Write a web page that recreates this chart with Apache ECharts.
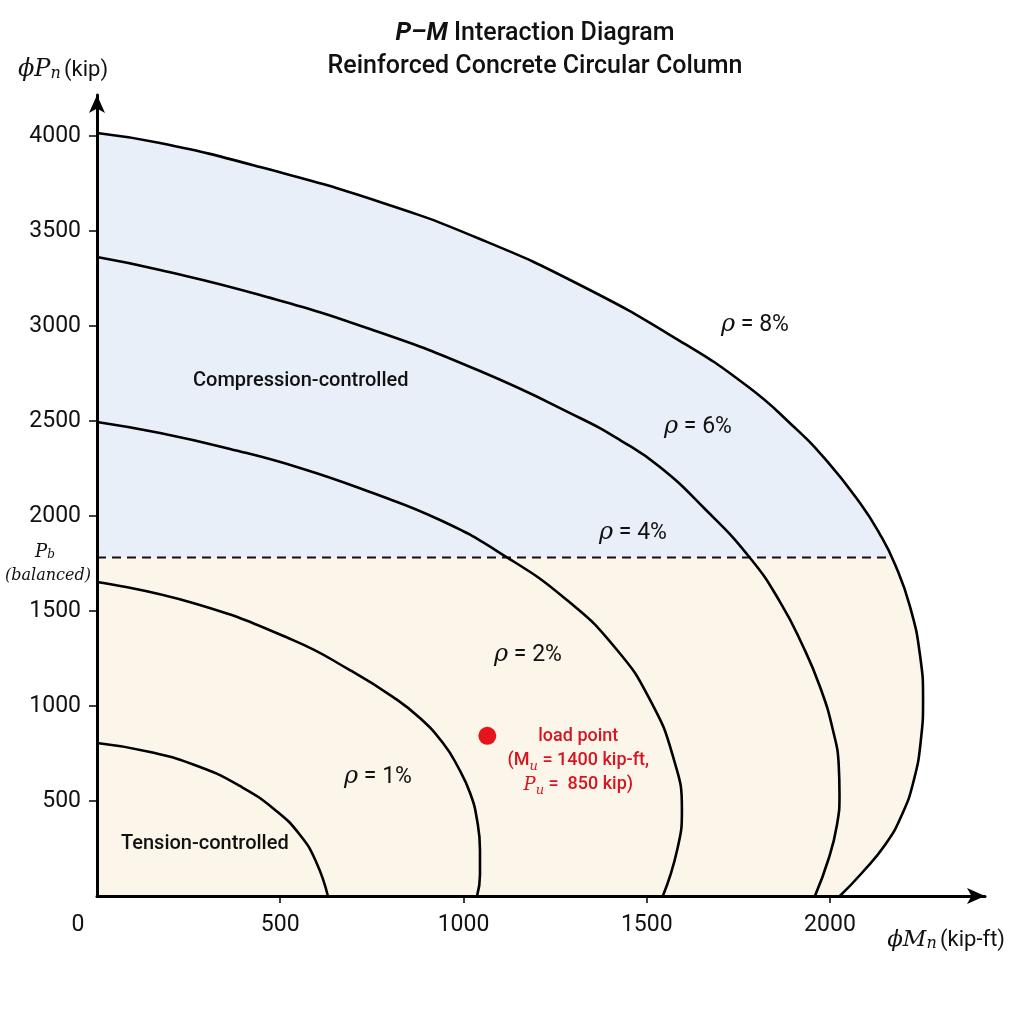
<!DOCTYPE html>
<html>
<head>
<meta charset="utf-8">
<script src="https://cdn.jsdelivr.net/npm/echarts@6/dist/echarts.min.js"></script>
<style>
html,body{margin:0;padding:0;background:#fff;}
#main{width:1024px;height:1024px;}
</style>
</head>
<body>
<div id="main"></div>
<script>
// 各配筋率曲线 [M (kip-ft), P (kip)]
var rho1 = [[0,805],[145,758],[281,679],[390,579],[486,453],[554,321],[598,179],[630,0]];
var rho2 = [[0,1653],[262,1542],[535,1347],[690,1189],[808,1047],[881,937],[944,805],[985,679],[1018,542],[1037,400],[1045,242],[1045,111],[1037,0]];
var rho4 = [[0,2495],[172,2437],[363,2353],[554,2253],[745,2126],[936,1979],[1100,1805],[1282,1558],[1419,1295],[1509,1032],[1572,732],[1596,453],[1583,242],[1544,0]];
var rho6 = [[0,3363],[172,3295],[445,3163],[745,2984],[1045,2763],[1318,2516],[1427,2400],[1536,2258],[1659,2037],[1782,1779],[1864,1547],[1926,1316],[1973,1100],[2008,874],[2024,684],[2026,532],[2019,374],[1997,200],[1959,0]];
var rho8 = [[0,4016],[172,3963],[445,3837],[772,3653],[1045,3458],[1318,3216],[1591,2921],[1774,2684],[1899,2474],[1992,2289],[2082,2068],[2136,1905],[2177,1747],[2218,1526],[2246,1263],[2254,1032],[2248,821],[2229,611],[2196,426],[2150,268],[2087,121],[2027,0]];
var curveNames = ['ρ = 1%','ρ = 2%','ρ = 4%','ρ = 6%','ρ = 8%'];
var Pb = 1782;             // 平衡点轴力
var loadPoint = [1065, 843];
var xTicks = [0, 500, 1000, 1500, 2000];
var yTicks = [500, 1000, 1500, 2000, 2500, 3000, 3500, 4000];

// 按平衡线把 8% 曲线分成上下两块区域
function splitRegion(curve, pb) {
	var upper = [[0, pb]], lower = [[0, 0], [0, pb]];
	var crossed = false;
	for (var i = 0; i < curve.length; i++) {
		var p = curve[i];
		if (!crossed && p[1] < pb) {
			var q = curve[i - 1];
			var t = (q[1] - pb) / (q[1] - p[1]);
			var mi = q[0] + t * (p[0] - q[0]);
			upper.push([mi, pb]);
			lower.push([mi, pb]);
			crossed = true;
		}
		if (crossed) lower.push(p); else upper.push(p);
	}
	return {upper: upper, lower: lower};
}
var regions = splitRegion(rho8, Pb);

function polygonSeries(pts, color) {
	return {
		type: 'custom',
		silent: true,
		z: 0,
		renderItem: function (params, api) {
			if (params.dataIndex !== 0) return;
			var points = pts.map(function (p) { return api.coord(p); });
			return {type: 'polygon', shape: {points: points}, style: {fill: color}};
		},
		data: pts
	};
}

function curveSeries(name, data) {
	return {
		name: name,
		type: 'line',
		smooth: true,
		symbol: 'none',
		z: 3,
		lineStyle: {color: '#000', width: 2.6},
		data: data
	};
}

var sans = 'Roboto, "Liberation Sans", sans-serif';
var serif = '"DejaVu Serif", serif';

var chart = echarts.init(document.getElementById('main'));
var option = {
	backgroundColor: '#fff',
	animation: false,
	title: {
		text: '{i|P–M} Interaction Diagram',
		subtext: 'Reinforced Concrete Circular Column',
		left: 530,
		top: 16,
		textAlign: 'center',
		itemGap: 8,
		textStyle: {
			fontFamily: sans, fontSize: 25, fontWeight: 500, color: '#111',
			rich: {i: {fontFamily: sans, fontSize: 25, fontStyle: 'italic', fontWeight: 'bold', color: '#111'}}
		},
		subtextStyle: {fontFamily: sans, fontSize: 25, fontWeight: 500, color: '#111'}
	},
	grid: {left: 97, right: 39, top: 95, bottom: 128, containLabel: false},
	xAxis: {
		type: 'value',
		min: 0,
		max: 2423,
		z: 10,
		name: '{m|ϕM}{s|n} {k|(kip-ft)}',
		nameLocation: 'end',
		nameGap: 20,
		nameTextStyle: {
			align: 'right', verticalAlign: 'top', padding: [33, 0, 0, 0],
			rich: {
				m: {fontFamily: serif, fontStyle: 'italic', fontSize: 23, color: '#111'},
				s: {fontFamily: serif, fontStyle: 'italic', fontSize: 16, color: '#111', verticalAlign: 'bottom', lineHeight: 14},
				k: {fontFamily: sans, fontSize: 22, color: '#111'}
			}
		},
		splitLine: {show: false},
		axisLine: {lineStyle: {color: '#000', width: 3}, symbol: ['none', 'arrow'], symbolSize: [12, 18]},
		axisTick: {show: true, length: 7, lineStyle: {color: '#000', width: 1.5}, customValues: xTicks.slice(1)},
		axisLabel: {
			customValues: xTicks,
			margin: 18,
			fontFamily: sans, fontSize: 23, color: '#111',
			formatter: function (v) { return v === 0 ? '{z|0}' : String(v); },
			rich: {z: {fontFamily: sans, fontSize: 23, color: '#111', padding: [0, 38, 0, 0]}}
		}
	},
	yAxis: {
		type: 'value',
		min: 0,
		max: 4216,
		z: 10,
		name: '{m|ϕP}{s|n} {k|(kip)}',
		nameLocation: 'end',
		nameGap: 25,
		nameTextStyle: {
			align: 'center', verticalAlign: 'middle', padding: [0, 68, 0, 0],
			rich: {
				m: {fontFamily: serif, fontStyle: 'italic', fontSize: 24, color: '#111'},
				s: {fontFamily: serif, fontStyle: 'italic', fontSize: 16, color: '#111', verticalAlign: 'bottom', lineHeight: 14},
				k: {fontFamily: sans, fontSize: 22, color: '#111'}
			}
		},
		splitLine: {show: false},
		axisLine: {lineStyle: {color: '#000', width: 3}, symbol: ['none', 'arrow'], symbolSize: [12, 18]},
		axisTick: {show: true, length: 8, lineStyle: {color: '#000', width: 1.5}, customValues: yTicks},
		axisLabel: {
			customValues: yTicks, margin: 16, fontFamily: sans, fontSize: 23, color: '#111',
			formatter: function (v) { return String(v); }
		}
	},
	graphic: [
		{type: 'text', z: 100, left: 193, top: 371, style: {text: 'Compression-controlled', font: '500 20px ' + sans, fill: '#111'}},
		{type: 'text', z: 100, left: 121, top: 834, style: {text: 'Tension-controlled', font: '500 20px ' + sans, fill: '#111'}},
		{type: 'text', z: 100, x: 45, y: 552, style: {text: '{p|P}{s|b}', align: 'center', verticalAlign: 'middle',
			rich: {p: {fontFamily: serif, fontStyle: 'italic', fontSize: 18, fill: '#111'}, s: {fontFamily: serif, fontStyle: 'italic', fontSize: 12, fill: '#111', verticalAlign: 'bottom', lineHeight: 12}}}},
		{type: 'text', z: 100, x: 48, y: 576, style: {text: '(balanced)', align: 'center', verticalAlign: 'middle', font: 'italic 16px ' + serif, fill: '#111'}}
	].concat([[378, 777], [528, 655], [633, 533], [698, 427], [755, 325]].map(function (pos, i) {
		return {type: 'text', z: 100, x: pos[0], y: pos[1], style: {
			text: '{r|ρ}{t|' + curveNames[i].slice(1) + '}', align: 'center', verticalAlign: 'middle',
			rich: {r: {fontFamily: serif, fontStyle: 'italic', fontSize: 24, fill: '#111'}, t: {fontFamily: sans, fontSize: 23, fill: '#111'}}
		}};
	})),
	series: [
		polygonSeries(regions.upper, '#e9eff9'),
		polygonSeries(regions.lower, '#fcf6ea'),
		{
			type: 'line',
			symbol: 'none',
			z: 2,
			lineStyle: {color: '#111', width: 2, type: [9, 6]},
			data: [[0, Pb], [regions.lower[2][0], Pb]]
		},
		curveSeries(curveNames[0], rho1),
		curveSeries(curveNames[1], rho2),
		curveSeries(curveNames[2], rho4),
		curveSeries(curveNames[3], rho6),
		curveSeries(curveNames[4], rho8),
		{
			type: 'scatter',
			z: 4,
			symbolSize: 18,
			itemStyle: {color: '#e8141c', opacity: 1},
			label: {
				show: true,
				position: 'inside',
				offset: [91, 25],
				align: 'center',
				formatter: '{t|load point}\n{t|(M}{s|u}{t| = 1400 kip-ft,}\n{i|P}{s|u}{t| =  850 kip)}',
				rich: {
					t: {fontFamily: sans, fontSize: 18, fontWeight: 500, color: '#d7141f', lineHeight: 24},
					i: {fontFamily: serif, fontStyle: 'italic', fontSize: 18, color: '#d7141f', lineHeight: 24},
					s: {fontFamily: serif, fontStyle: 'italic', fontSize: 13, color: '#d7141f', verticalAlign: 'bottom', lineHeight: 16}
				}
			},
			data: [loadPoint]
		}
	]
};
chart.setOption(option);
</script>
</body>
</html>
